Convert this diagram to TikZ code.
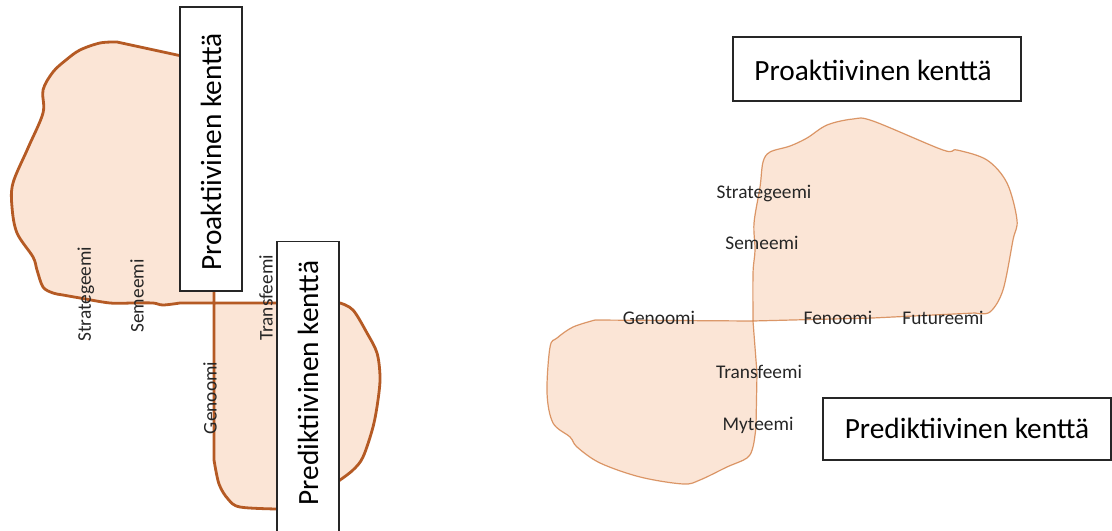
\documentclass[tikz,border=0pt]{standalone}
\usepackage{fontspec}
\setmainfont{Carlito}
\definecolor{strokeL}{HTML}{B55A24}
\definecolor{fillL}{HTML}{FBE5D6}
\definecolor{strokeR}{HTML}{C55A11}
\begin{document}
\begin{tikzpicture}[x=0.75pt,y=-0.75pt,
  blobL/.style={draw=strokeL, fill=fillL, line width=2.1pt, line join=round},
  blobR/.style={draw=strokeR, draw opacity=0.6, fill=fillL, line width=0.9pt, line join=round},
  box/.style={draw=black!85, fill=white, line width=0.9pt, inner sep=0pt},
  big/.style={font=\fontsize{22}{26}\selectfont, inner sep=0pt},
  lbl/.style={font=\fontsize{14.5}{17}\selectfont, text=black!85, inner sep=0pt}]
\clip (0,0) rectangle (1112,531);
\fill[white] (0,0) rectangle (1112,531);

% ---------- left diagram ----------
\path[blobL] (214,303) -- (180,303) -- plot[smooth, tension=0.55] coordinates {(180,303) (163,305) (153,303) (133,303) (110,303) (80,298) (63,295) (53,293) (43,287) (37,270) (33,257) (17,233) (12,207) (13,183) (28,148) (43,113) (43,90) (53,72) (66,60) (80,50) (100,43) (117,42)} -- (214,63) -- cycle;

\path[blobL] (214,303) -- (340,303) -- plot[smooth, tension=0.55] coordinates {(340,303) (353,310) (367,333) (377,353) (380,377) (378,400) (373,427) (363,457) (353,470) (340,480)} -- (300,515) -- (277,509) -- plot[smooth, tension=0.55] coordinates {(277,509) (240,507) (228,499) (219,484) (214,460)} -- cycle;

\node[box, minimum width=213pt, minimum height=46.5pt, rotate=90] (proL) at (211,149) {};
\node[big, rotate=90] (proLt) at (211,152) {Proaktiivinen kenttä};
\node[box, minimum width=239pt, minimum height=46.5pt, rotate=90] (preL) at (308,400.5) {};
\node[big, rotate=90] (preLt) at (308,383) {Prediktiivinen kenttä};

\node[lbl, rotate=90] (strL) at (86,294) {Strategeemi};
\node[lbl, rotate=90] (semL) at (137,296) {Semeemi};
\node[lbl, rotate=90] (traL) at (266,298) {Transfeemi};
\node[lbl, rotate=90] (genL) at (210,398) {Genoomi};

% ---------- right diagram ----------
\path[blobR] (753,321) -- plot[smooth, tension=0.55] coordinates {(753,321) (753,273) (755,250) (754,223) (760,187) (763,162) (770,152) (790,146) (807,138) (827,125) (853,119) (873,121) (943,150) (957,150) (987,160) (1007,183) (1017,220) (1013,240) (1003,290) (990,312) (975,313)} -- (873,318) -- cycle;

\path[blobR] (753,321) -- (595,320) -- plot[smooth, tension=0.55] coordinates {(595,320) (573,327) (557,338) (550,347) (547,393) (553,423) (570,437) (577,447) (600,463) (640,477) (683,484) (700,480) (727,467) (747,458) (753,447) (756,427)} -- (757,373) -- cycle;

\node[box, minimum width=216pt, minimum height=48pt] (proR) at (877,69) {};
\node[big] (proRt) at (873,70) {Proaktiivinen kenttä};
\node[box, minimum width=216pt, minimum height=46.5pt] (preR) at (967,429) {};
\node[big] (preRt) at (967,428) {Prediktiivinen kenttä};

\node[lbl] (strR) at (764,194) {Strategeemi};
\node[lbl] (semR) at (762,243) {Semeemi};
\node[lbl] (genR) at (659,318) {Genoomi};
\node[lbl] (fenR) at (838,318) {Fenoomi};
\node[lbl] (futR) at (943,318) {Futureemi};
\node[lbl] (traR) at (759,372) {Transfeemi};
\node[lbl] (mytR) at (758,425) {Myteemi};
\end{tikzpicture}
\end{document}
